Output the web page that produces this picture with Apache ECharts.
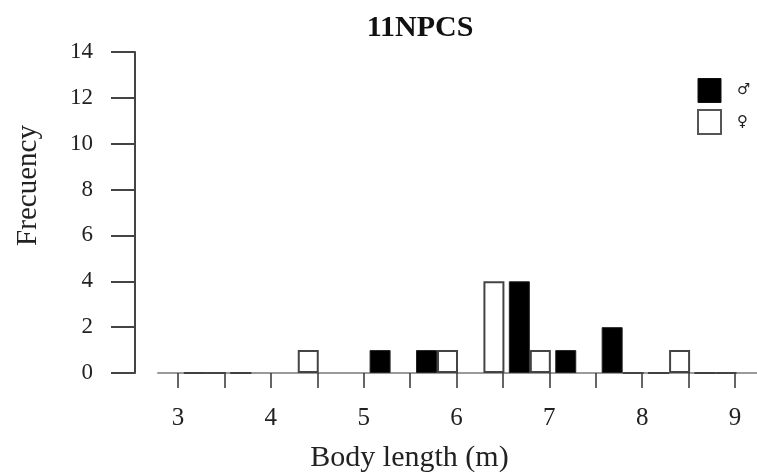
<!DOCTYPE html>
<html>
<head>
<meta charset="utf-8">
<script src="https://cdn.jsdelivr.net/npm/echarts@6/dist/echarts.min.js"></script>
<style>
  html, body { margin: 0; padding: 0; background: #fff; }
  #chart { width: 757px; height: 472px; }
</style>
</head>
<body>
<div id="chart"></div>
<script>
// bins of 0.5 m, value = where each male/female pair is centred in the picture
const binCenters = [3.29, 3.79, 4.29, 4.79, 5.29, 5.79, 6.29, 6.79, 7.29, 7.79, 8.29, 8.79]
const maleCounts = [0, 0, null, null, 1, 1, null, 4, 1, 2, 0, 0]
const femaleCounts = [0, null, 1, null, null, 1, 4, 1, null, 0, 1, 0]
const xTickLabels = [3, 4, 5, 6, 7, 8, 9]
const yTickLabels = [0, 2, 4, 6, 8, 10, 12, 14]

const serif = 'Liberation Serif'

const chart = echarts.init(document.getElementById('chart'), null, { renderer: 'canvas' })

const pairs = (vals) => binCenters.map((x, i) => [x, vals[i] === null ? '-' : vals[i]])

const option = {
  animation: false,
  title: {
    text: '11NPCS',
    left: 415,
    textAlign: 'center',
    top: 8,
    textStyle: { fontFamily: serif, fontSize: 30, fontWeight: 'bold', color: '#111' }
  },
  legend: {
    orient: 'vertical',
    left: 692,
    top: 73,
    itemWidth: 23,
    itemHeight: 24,
    itemGap: 6,
    icon: 'rect',
    textStyle: { fontFamily: 'DejaVu Sans', fontSize: 15, color: '#222', padding: [0, 0, 0, 11] },
    data: [
      { name: '♂', itemStyle: { color: '#000', borderColor: '#111', borderWidth: 1 } },
      { name: '♀', itemStyle: { color: '#fff', borderColor: '#555', borderWidth: 2 } }
    ]
  },
  grid: [
    { left: 178, right: 22, top: 52, bottom: 99, outerBoundsMode: 'none' },
    { left: 158, right: 0, top: 52, bottom: 99, outerBoundsMode: 'none' }
  ],
  xAxis: [
    {
      type: 'value',
      gridIndex: 0,
      min: 3,
      max: 9,
      interval: 0.5,
      splitLine: { show: false },
      axisLine: { show: true, lineStyle: { color: '#9a9a9a', width: 2 } },
      axisTick: { show: true, length: 15, lineStyle: { color: '#333', width: 1.5 } },
      axisLabel: {
        margin: 33,
        fontFamily: serif,
        fontSize: 25,
        color: '#222',
        showMinLabel: true,
        showMaxLabel: true,
        formatter: (v) => (xTickLabels.includes(v) ? String(v) : '')
      },
      name: 'Body length (m)',
      nameLocation: 'middle',
      nameGap: 70,
      nameTextStyle: { fontFamily: serif, fontSize: 30, color: '#222', padding: [0, 94, 0, 0] }
    },
    {
      type: 'value',
      gridIndex: 1,
      min: 0,
      max: 1,
      splitLine: { show: false },
      axisLine: { show: true, lineStyle: { color: '#9a9a9a', width: 2 } },
      axisTick: { show: false },
      axisLabel: { show: false }
    }
  ],
  yAxis: [
    {
      type: 'value',
      gridIndex: 0,
      min: 0,
      max: 14,
      interval: 2,
      offset: 43,
      splitLine: { show: false },
      axisLine: { show: true, lineStyle: { color: '#444', width: 2 } },
      axisTick: { show: true, length: 24, lineStyle: { color: '#444', width: 2 } },
      axisLabel: {
        margin: 42,
        fontFamily: serif,
        fontSize: 23,
        color: '#222',
        formatter: (v) => (yTickLabels.includes(v) ? String(v) : '')
      },
      name: 'Frecuency',
      nameLocation: 'middle',
      nameGap: 92,
      nameTextStyle: { fontFamily: serif, fontSize: 29, color: '#222', padding: [0, 0, 0, 54] }
    },
    {
      type: 'value',
      gridIndex: 1,
      show: false,
      min: 0,
      max: 1
    }
  ],
  series: [
    {
      name: '♂',
      type: 'bar',
      xAxisIndex: 0,
      yAxisIndex: 0,
      barWidth: 21,
      barGap: '0%',
      itemStyle: { color: '#000', borderColor: '#222', borderWidth: 1 },
      data: pairs(maleCounts)
    },
    {
      name: '♀',
      type: 'bar',
      xAxisIndex: 0,
      yAxisIndex: 0,
      barWidth: 21,
      barGap: '0%',
      itemStyle: { color: '#fff', borderColor: '#444', borderWidth: 2 },
      data: pairs(femaleCounts)
    }
  ]
}

chart.setOption(option)
</script>
</body>
</html>
